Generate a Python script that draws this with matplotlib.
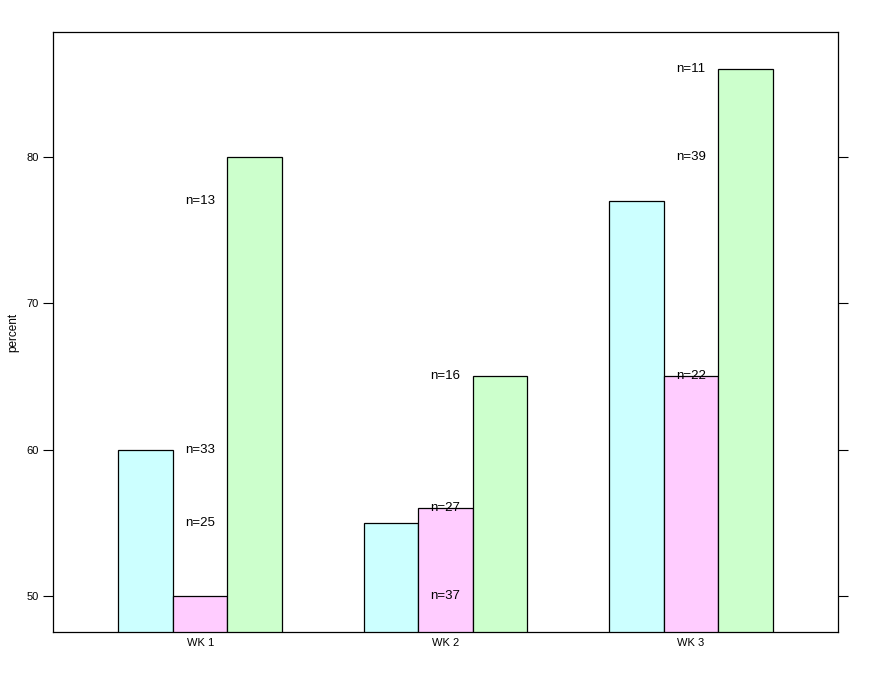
import matplotlib
matplotlib.use("Agg")
import matplotlib.pyplot as plt
import numpy as np

plt.rcParams['font.family'] = ['Liberation Sans', 'DejaVu Sans']

weeks = ["WK 1", "WK 2", "WK 3"]
series_cyan = [60, 55, 77]
series_pink = [50, 56, 65]
series_green = [80, 65, 86]
colors = ["#CCFFFF", "#FFCCFF", "#CCFFCC"]

# n labels: (group index, y value, text)
label_groups = [0, 0, 0, 1, 1, 1, 2, 2, 2]
label_y = [77, 60, 55, 65, 56, 50, 86, 80, 65]
label_text = ["n=13", "n=33", "n=25", "n=16", "n=27", "n=37", "n=11", "n=39", "n=22"]

W, H = 871, 673
fig = plt.figure(figsize=(W / 100, H / 100), dpi=100)
ax = fig.add_axes([53 / W, 1 - 632 / H, (838 - 53) / W, (632 - 32) / H])

x = np.arange(1, len(weeks) + 1)
bw = 2 / 9
for i, (vals, c) in enumerate(zip([series_cyan, series_pink, series_green], colors)):
    ax.bar(x + (i - 1) * bw, vals, width=bw, color=c, edgecolor="black",
           linewidth=0.9, bottom=0, zorder=2)

for g, yv, t in zip(label_groups, label_y, label_text):
    ax.text(x[g], yv, t, ha="center", va="center", fontsize=9.5, zorder=3)

ax.set_xlim(0.4, 3.6)
ax.set_ylim(47.54, 88.54)
ax.set_xticks(x)
ax.set_xticklabels(weeks, fontsize=8)
ax.tick_params(axis="x", length=0, pad=4)
ax.set_yticks([50, 60, 70, 80])
ax.tick_params(axis="y", which="both", left=True, right=True, direction="out",
               length=7, width=0.8, labelsize=8, pad=3, colors="black")
fig.text(13 / W, 1 - 332 / H, "percent", rotation=90, ha="center", va="center",
         fontsize=8.5)
for s in ax.spines.values():
    s.set_linewidth(0.9)

fig.savefig("out.png", dpi=100, facecolor="white")
